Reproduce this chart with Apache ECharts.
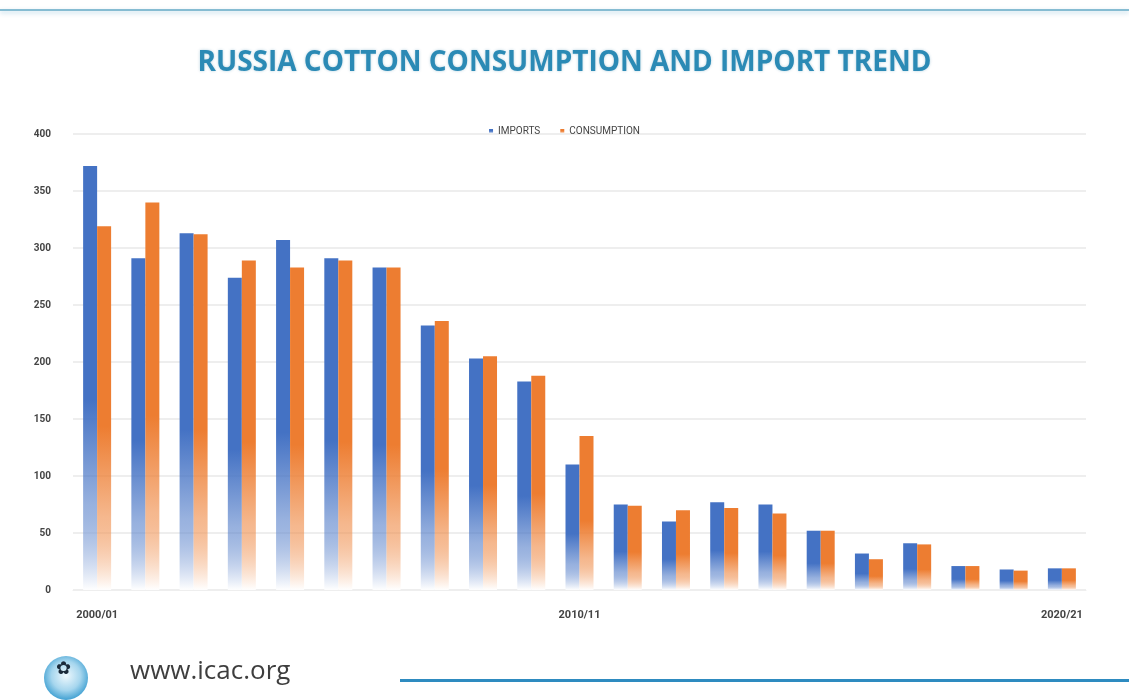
<!DOCTYPE html>
<html>
<head>
<meta charset="utf-8">
<script src="https://cdn.jsdelivr.net/npm/echarts@6/dist/echarts.min.js"></script>
<style>
html,body{margin:0;padding:0;background:#fff;}
#c{width:1129px;height:700px;}
</style>
</head>
<body>
<div id="c"></div>
<script>
var categories = ["2000/01","2001/02","2002/03","2003/04","2004/05","2005/06","2006/07","2007/08","2008/09","2009/10","2010/11","2011/12","2012/13","2013/14","2014/15","2015/16","2016/17","2017/18","2018/19","2019/20","2020/21"];
var imports = [372, 291, 313, 274, 307, 291, 283, 232, 203, 183, 110, 75, 60, 77, 75, 52, 32, 41, 21, 18, 19];
var consumption = [319, 340, 312, 289, 283, 289, 283, 236, 205, 188, 135, 74, 70, 72, 67, 52, 27, 40, 21, 17, 19];
var yTicks = [0, 50, 100, 150, 200, 250, 300, 350, 400];

function grad(c) {
  return new echarts.graphic.LinearGradient(0, 0, 0, 1, [
    {offset: 0, color: c},
    {offset: 0.55, color: c},
    {offset: 0.8, color: echarts.color.modifyAlpha(c, 0.55)},
    {offset: 1, color: 'rgba(255,255,255,0.95)'}
  ]);
}

var chart = echarts.init(document.getElementById('c'));
chart.setOption({
  backgroundColor: '#ffffff',
  animation: false,
  title: {
    text: 'RUSSIA COTTON CONSUMPTION AND IMPORT TREND',
    left: 'center',
    top: 44,
    textStyle: {
      fontFamily: 'Open Sans',
      fontWeight: 'bold',
      fontSize: 28,
      color: '#2b8ab5',
      textShadowColor: 'rgba(40,120,160,0.35)',
      textShadowBlur: 3
    }
  },
  legend: {
    data: ['IMPORTS', 'CONSUMPTION'],
    top: 121,
    left: 'center',
    itemWidth: 4,
    itemHeight: 4,
    itemGap: 20,
    icon: 'rect',
    textStyle: {fontSize: 10, color: '#444', fontFamily: 'Roboto'}
  },
  grid: {left: 73, right: 43, top: 134, bottom: 110},
  xAxis: {
    type: 'category',
    data: categories,
    axisTick: {show: false},
    axisLine: {show: true, lineStyle: {color: '#eeeeee'}},
    axisLabel: {
      interval: 9,
      margin: 20,
      fontSize: 11,
      fontWeight: 'bold',
      color: '#444',
      fontFamily: 'Roboto'
    }
  },
  yAxis: {
    type: 'value',
    min: yTicks[0],
    max: yTicks[yTicks.length - 1],
    interval: 50,
    axisLine: {show: false},
    axisTick: {show: false},
    splitLine: {lineStyle: {color: '#e8e8e8', width: 1.5}},
    axisLabel: {margin: 22, fontSize: 10, fontWeight: 'bold', color: '#444', fontFamily: 'Roboto'}
  },
  color: ['#4472C4', '#ED7D31'],
  series: [
    {
      name: 'IMPORTS',
      type: 'bar',
      data: imports,
      barWidth: 14,
      barGap: '0%',
      itemStyle: {color: grad('#4472C4')}
    },
    {
      name: 'CONSUMPTION',
      type: 'bar',
      data: consumption,
      barWidth: 14,
      barGap: '0%',
      itemStyle: {color: grad('#ED7D31')}
    }
  ],
  graphic: [
    {
      type: 'rect',
      shape: {x: 0, y: 9, width: 1129, height: 2},
      style: {fill: '#86bcd2', shadowColor: 'rgba(120,180,210,0.5)', shadowBlur: 4, shadowOffsetY: 2}
    },
    {
      type: 'rect',
      shape: {x: 400, y: 679, width: 729, height: 3},
      style: {fill: '#2e8bc0'}
    },
    {
      type: 'circle',
      shape: {cx: 66, cy: 678, r: 22},
      style: {
        fill: new echarts.graphic.RadialGradient(0.5, 0.45, 0.6, [
          {offset: 0, color: '#eef8fd'},
          {offset: 0.55, color: '#a6d6ee'},
          {offset: 1, color: '#2b95cc'}
        ])
      }
    },
    {
      type: 'text',
      left: 56,
      top: 660,
      style: {text: '✿', fontSize: 18, fill: '#1b2a3a'}
    },
    {
      type: 'text',
      left: 130,
      top: 659,
      style: {
        text: 'www.icac.org',
        fontSize: 26,
        fontFamily: 'Open Sans',
        fill: '#3e3e3e'
      }
    }
  ]
});
</script>
</body>
</html>
